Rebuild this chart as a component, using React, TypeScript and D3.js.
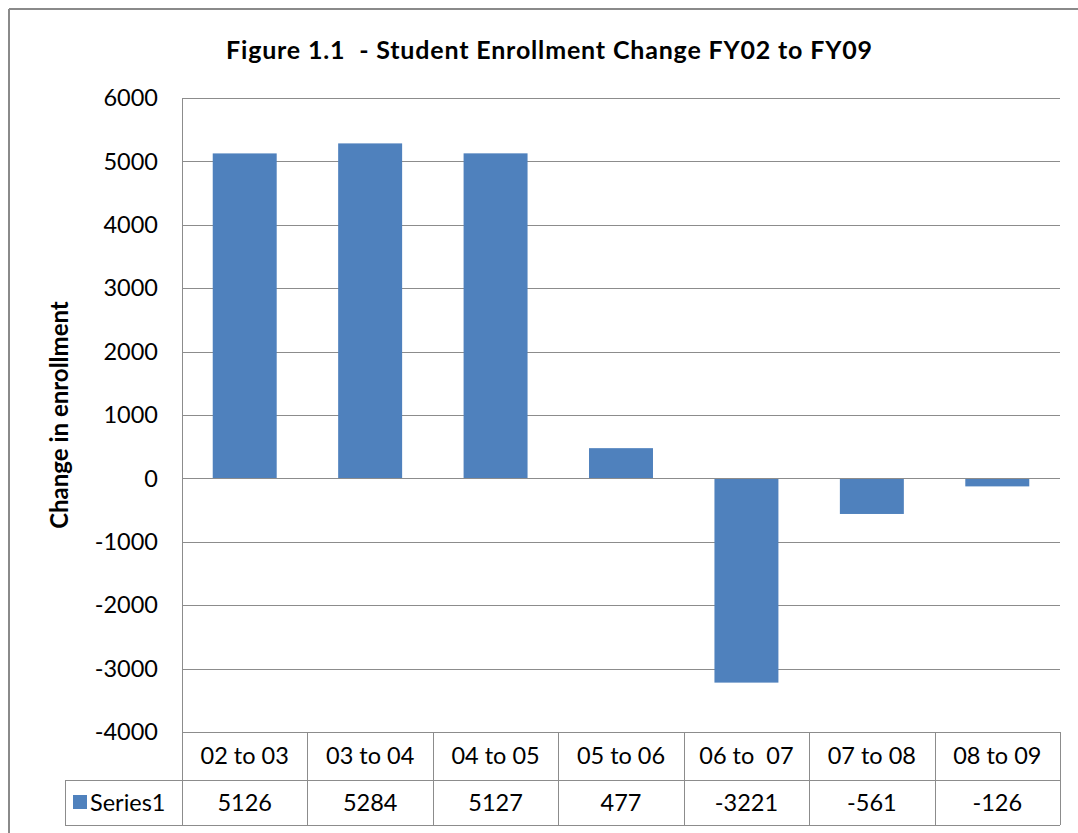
import React from "react";
import * as d3 from "d3";

const categories = ["02 to 03", "03 to 04", "04 to 05", "05 to 06", "06 to  07", "07 to 08", "08 to 09"];
const values = [5126, 5284, 5127, 477, -3221, -561, -126];
const yTicks = [6000, 5000, 4000, 3000, 2000, 1000, 0, -1000, -2000, -3000, -4000];
const seriesName = "Series1";
const title = "Figure 1.1  - Student Enrollment Change FY02 to FY09";
const yTitle = "Change in enrollment";

const W = 1078, H = 833;
const left = 182, right = 1060, top = 98, bottom = 732;
const rowH1 = 48, rowH2 = 45;
const legendLeft = 65;
const font = "Lato, 'Open Sans', sans-serif";
const fs = 23.5;

export default function App() {
  const x = d3.scaleBand<string>().domain(categories).range([left, right]).paddingInner(0.49).paddingOuter(0.245);
  const xCol = d3.scaleBand<string>().domain(categories).range([left, right]);
  const y = d3.scaleLinear().domain([-4000, 6000]).range([bottom, top]);
  const grid = "#8c8c8c";
  const row1Bottom = bottom + rowH1;
  const row2Bottom = row1Bottom + rowH2;
  const pre = { whiteSpace: "pre" as const };
  return (
    <div style={{ position: "fixed", left: 0, top: 0, width: W, height: H, background: "#fff" }}>
      <svg width={W} height={H} style={{ display: "block" }}>
        <rect x={0} y={0} width={W} height={H} fill="#fff" />
        <line x1={9} y1={9} x2={W} y2={9} stroke="#8a8a8a" strokeWidth={2} />
        <line x1={9} y1={9} x2={9} y2={H} stroke="#8a8a8a" strokeWidth={2} />
        <text x={226} y={59} textLength={646} lengthAdjust="spacing" fontFamily={font} fontWeight="bold" fontSize={25} fill="#000" style={pre}>{title}</text>
        {yTicks.map(t => (
          <line key={t} x1={left} x2={right} y1={Math.round(y(t)) + 0.5} y2={Math.round(y(t)) + 0.5} stroke={grid} strokeWidth={1} />
        ))}
        {yTicks.map(t => (
          <text key={"l" + t} x={158} y={y(t)} dy="0.35em" textAnchor="end" fontFamily={font} fontSize={fs} fill="#000">{t}</text>
        ))}
        <text transform={`translate(68,415) rotate(-90)`} textAnchor="middle" fontFamily={font} fontWeight="bold" fontSize={24} fill="#000">{yTitle}</text>
        {values.map((v, i) => (
          <rect key={i} x={x(categories[i])} width={x.bandwidth()} y={y(Math.max(0, v))} height={Math.abs(y(v) - y(0))} fill="#4F81BD" />
        ))}
        <line x1={left} x2={right} y1={Math.round(y(0)) + 0.5} y2={Math.round(y(0)) + 0.5} stroke={grid} strokeWidth={1} />
        <line x1={left + 0.5} x2={left + 0.5} y1={top} y2={row2Bottom} stroke={grid} strokeWidth={1} />
        <line x1={legendLeft} x2={right} y1={row1Bottom + 0.5} y2={row1Bottom + 0.5} stroke={grid} />
        <line x1={legendLeft} x2={right} y1={row2Bottom + 0.5} y2={row2Bottom + 0.5} stroke={grid} />
        <line x1={legendLeft + 0.5} x2={legendLeft + 0.5} y1={row1Bottom} y2={row2Bottom} stroke={grid} />
        {categories.map((c, i) => (
          <g key={c}>
            <line x1={Math.round(xCol(c)! + xCol.bandwidth()) + 0.5} x2={Math.round(xCol(c)! + xCol.bandwidth()) + 0.5} y1={bottom} y2={row2Bottom} stroke={grid} />
            <text x={xCol(c)! + xCol.bandwidth() / 2} y={bottom + rowH1 / 2} dy="0.35em" textAnchor="middle" fontFamily={font} fontSize={fs} fill="#000" style={pre}>{c}</text>
            <text x={xCol(c)! + xCol.bandwidth() / 2} y={row1Bottom + rowH2 / 2} dy="0.35em" textAnchor="middle" fontFamily={font} fontSize={fs} fill="#000">{values[i]}</text>
          </g>
        ))}
        <rect x={73} y={795} width={14} height={14} fill="#4F81BD" />
        <text x={90} y={row1Bottom + rowH2 / 2} dy="0.35em" fontFamily={font} fontSize={fs} fill="#000">{seriesName}</text>
      </svg>
    </div>
  );
}
